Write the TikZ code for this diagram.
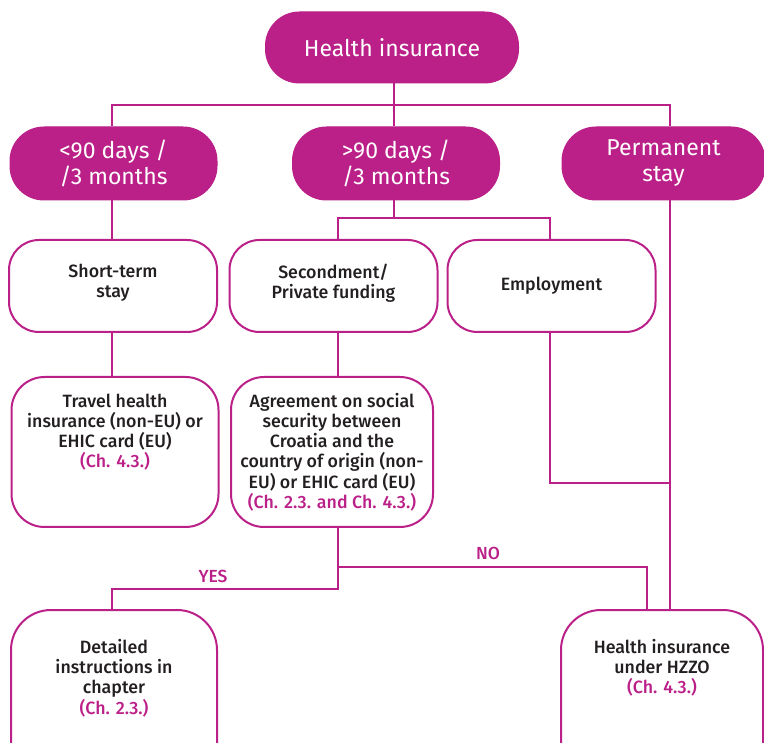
\documentclass[tikz,border=0pt]{standalone}
\usepackage{fontspec}
\setmainfont{Fira Sans}
\newfontfamily\medfont{Fira Sans Medium}
\definecolor{mag}{RGB}{187,32,137}
\definecolor{ink}{RGB}{35,31,32}
\begin{document}
\begin{tikzpicture}[x=1pt,y=-1pt,
  filledbox/.style={fill=mag, draw=mag, line width=1pt, rounded corners=34pt,
    minimum width=#1, minimum height=73pt, inner sep=0pt, text=white,
    align=center, font=\fontsize{23}{26}\selectfont},
  outbox/.style={draw=mag, line width=2pt, rounded corners=30pt, inner sep=0pt},
  bodytext/.style={text=ink, align=center, inner sep=0pt, font=\medfont\fontsize{17.8}{20.2}\selectfont},
  conn/.style={draw=mag, line width=2pt},
  lbl/.style={text=mag, inner sep=0pt, font=\medfont\fontsize{17.5}{20}\selectfont}
]
\useasboundingbox (0,0) rectangle (764,743);
\begin{scope}
\clip (0,0) rectangle (764,743);
% guide coordinates
\coordinate (vL) at (112,0);
\coordinate (vM) at (394,0);
\coordinate (vS) at (338,0);
\coordinate (vE) at (550,0);
\coordinate (vR) at (670,0);
\coordinate (vN) at (647,0);
\coordinate (hy) at (0,105);
\coordinate (h218) at (0,218);
\coordinate (h483) at (0,483);
\coordinate (h567) at (0,567);
\coordinate (h589) at (0,589);

% row 1
\node[filledbox=253pt, minimum height=71pt] (top) at (392,47.5) {Health insurance};
% row 2
\node[filledbox=207pt] (a) at (113.5,163.5) {<90 days /\\/3 months};
\node[filledbox=207pt] (b) at (396,163.5) {>90 days /\\/3 months};
\node[filledbox=203pt] (c) at (663.5,163.5) {Permanent\\stay};
% row 3
\node[outbox, minimum width=208pt, minimum height=92pt] (d) at (113,286) {};
\node[outbox, minimum width=208pt, minimum height=92pt] (e) at (333.5,286) {};
\node[outbox, minimum width=208pt, minimum height=92pt] (f) at (551.5,286) {};
\node[bodytext] (dt) at (113,283) {Short-term\\stay};
\node[bodytext] (et) at (333.5,283) {Secondment/\\Private funding};
\node[bodytext] (ft) at (551.5,286) {Employment};
% row 4
\node[outbox, rounded corners=33pt, minimum width=207pt, minimum height=150pt] (g) at (115,452) {};
\node[outbox, rounded corners=33pt, minimum width=202pt, minimum height=150pt] (h) at (332,452) {};
\node[bodytext] (gt) at (115,432) {Travel health\\insurance (non-EU) or\\EHIC card (EU)\\\textcolor{mag}{(Ch. 4.3.)}};
\node[bodytext] (ht) at (332,452) {Agreement on social\\security between\\Croatia and the\\country of origin (non-\\EU) or EHIC card (EU)\\\textcolor{mag}{(Ch. 2.3. and Ch. 4.3.)}};
% row 5
\node[outbox, rounded corners=40pt, minimum width=206pt, minimum height=180pt] (i) at (114,700) {};
\node[outbox, rounded corners=40pt, minimum width=202pt, minimum height=180pt] (j) at (662,700) {};
\node[bodytext] (it) at (114,678) {Detailed\\instructions in\\chapter\\\textcolor{mag}{(Ch. 2.3.)}};
\node[bodytext] (jt) at (662,668) {Health insurance\\under HZZO\\\textcolor{mag}{(Ch. 4.3.)}};

% connectors
\draw[conn] (top.south -| vM) -- (b.north -| vM);
\draw[conn] (a.north -| vL) -- (vL |- hy) -- (vR |- hy) -- (c.north -| vR);
\draw[conn] (a.south -| vL) -- (d.north -| vL);
\draw[conn] (b.south -| vM) -- (vM |- h218);
\draw[conn] (e.north -| vS) -- (vS |- h218) -- (vE |- h218) -- (f.north -| vE);
\draw[conn] (c.south -| vR) -- (j.north -| vR);
\draw[conn] (d.south -| vL) -- (g.north -| vL);
\draw[conn] (e.south -| vS) -- (h.north -| vS);
\draw[conn] (f.south -| vE) -- (vE |- h483) -- (vR |- h483);
\draw[conn] (h.south -| vS) -- (vS |- h589) -- (vL |- h589) -- (i.north -| vL);
\draw[conn] (vS |- h567) -- (vN |- h567) -- (j.north -| vN);

\node[lbl] (yes) at (213,576) {YES};
\node[lbl] (no) at (488,553) {NO};
\end{scope}
\end{tikzpicture}
\end{document}
